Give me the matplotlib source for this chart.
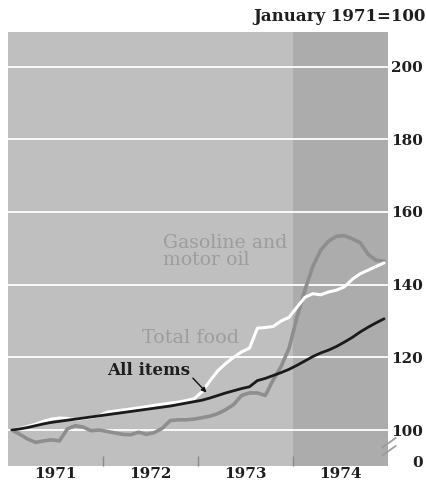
import numpy as np
import matplotlib
matplotlib.use("Agg")
import matplotlib.pyplot as plt
import matplotlib.transforms as mtransforms

# Monthly consumer price indexes, January 1971 = 100
years = [1971, 1972, 1973, 1974]

all_items = [100.0, 100.3, 100.7, 101.2, 101.7, 102.1, 102.4, 102.7, 103.0, 103.3, 103.6, 103.9,
             104.2, 104.5, 104.8, 105.1, 105.4, 105.7, 106.0, 106.3, 106.6, 107.0, 107.4, 107.8,
             108.2, 108.8, 109.5, 110.2, 110.8, 111.4, 111.9, 113.6, 114.2, 115.0, 115.8, 116.7,
             117.8, 119.0, 120.2, 121.2, 122.0, 123.0, 124.2, 125.5, 127.0, 128.3, 129.5, 130.6]

total_food = [100.0, 100.4, 101.0, 101.6, 102.4, 103.0, 103.3, 103.2, 102.9, 103.2, 103.5, 103.9,
              104.9, 105.2, 105.5, 105.8, 106.1, 106.4, 106.8, 107.1, 107.4, 107.7, 108.1, 108.6,
              110.5, 113.5, 116.3, 118.3, 120.0, 121.5, 122.5, 128.0, 128.2, 128.5, 130.0, 131.0,
              133.8, 136.5, 137.5, 137.2, 138.0, 138.5, 139.4, 141.5, 143.0, 144.0, 145.0, 146.0]

gasoline = [100.0, 98.8, 97.5, 96.6, 97.0, 97.3, 97.0, 100.3, 101.2, 100.8, 99.8, 100.0,
            99.6, 99.2, 98.8, 98.7, 99.4, 98.8, 99.3, 100.5, 102.6, 102.8, 102.8, 103.0,
            103.4, 103.8, 104.5, 105.6, 107.0, 109.5, 110.2, 110.2, 109.5, 113.8, 117.5, 122.5,
            131.0, 138.5, 145.0, 149.5, 152.0, 153.3, 153.5, 152.6, 151.5, 148.3, 146.7, 146.4]

ytick_vals = [91.3, 100, 120, 140, 160, 180, 200]
ytick_labels = ["0", "100", "120", "140", "160", "180", "200"]

# month midpoints as fractional years
t = np.array([y + (m + 0.5) / 12 for y in years for m in range(12)])

bg_light = "#bfbfbf"
bg_dark = "#acacac"
gas_color = "#8e8e8e"
label_gray = "#9d9d9d"
ink = "#1e1e1e"

plt.rcParams["font.family"] = ["DejaVu Serif"]

fig = plt.figure(figsize=(4.27, 4.83), dpi=100)
ax = fig.add_axes([0.0187, 0.0352, 0.89, 0.8985])
ax.set_facecolor(bg_light)
ax.axvspan(1974, 1975, color=bg_dark, lw=0, zorder=0)

for v in ytick_vals[1:]:
    ax.axhline(v, color="white", lw=1.3, zorder=1)

ax.plot(t, gasoline, color=gas_color, lw=2.6, zorder=2, solid_capstyle="round")
ax.plot(t, total_food, color="white", lw=2.2, zorder=3, solid_capstyle="round")
ax.plot(t, all_items, color="#1a1a1a", lw=2.0, zorder=4, solid_capstyle="round")

ax.set_xlim(1971, 1975)
ax.set_ylim(90.1, 209.5)

for s in ax.spines.values():
    s.set_visible(False)

# year boundaries as short inward ticks, year names centred between them
ax.set_xticks([1972, 1973, 1974])
ax.set_xticklabels([])
ax.set_xticks([y + 0.5 for y in years], minor=True)
ax.set_xticklabels([str(y) for y in years], minor=True, fontsize=11, fontweight="bold",
                   color=ink)
ax.tick_params(axis="x", which="major", direction="in", length=7, width=1, color="#8a8a8a")
ax.tick_params(axis="x", which="minor", length=0, pad=1)

ax.yaxis.tick_right()
ax.set_yticks(ytick_vals)
ax.set_yticklabels(ytick_labels, fontsize=11, fontweight="bold", color=ink)
ax.tick_params(axis="y", length=0, pad=25)
for lab in ax.get_yticklabels():
    lab.set_horizontalalignment("right")

ax.text(1.098, 1.035, "January 1971=100", transform=ax.transAxes, ha="right", va="center",
        fontsize=12, fontweight="bold", color=ink)

# axis break marks between 0 and 100
tr = mtransforms.blended_transform_factory(ax.transAxes, ax.transData)
for dy in (0, 2.2):
    ax.plot([0.985, 1.02], [93.0 + dy, 95.6 + dy], transform=tr, color="#9a9a9a", lw=1.2,
            clip_on=False, zorder=5)

ax.text(1972.63, 149.1, "Gasoline and\nmotor oil", fontsize=13.6, color=label_gray,
        ha="left", va="center", linespacing=0.92)
ax.text(1972.92, 125.3, "Total food", fontsize=13.8, color=label_gray, ha="center", va="center")
ax.annotate("All items", xy=(1973.09, 110.3), xytext=(1972.48, 116.5), fontsize=12,
            fontweight="bold", color=ink, ha="center", va="center",
            arrowprops=dict(arrowstyle="-|>", color="#111111", lw=1, mutation_scale=7,
                            shrinkA=0, shrinkB=0, relpos=(1.0, 0.2)))

fig.savefig("out.png", dpi=100, facecolor="white")
